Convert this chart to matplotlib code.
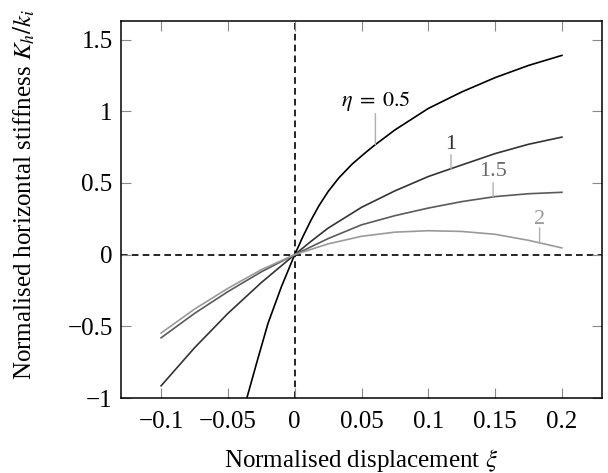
"""
Normalised horizontal stiffness against normalised displacement
for several values of eta, in the pgfplots look of the original.
"""

import numpy as np
import matplotlib
matplotlib.use("Agg")
import matplotlib.pyplot as plt
from matplotlib.ticker import FuncFormatter

# values
xi_05 = [-0.0358, -0.028, -0.02, -0.01, 0.0, 0.006, 0.012, 0.018, 0.025, 0.033,
         0.043, 0.053, 0.06, 0.075, 0.1, 0.125, 0.15, 0.175, 0.2]
kh_05 = [-1.0, -0.74, -0.48, -0.225, 0.0, 0.123, 0.237, 0.339, 0.44, 0.535,
         0.632, 0.712, 0.765, 0.87, 1.02, 1.135, 1.235, 1.32, 1.39]

xi_10 = [-0.1, -0.075, -0.05, -0.025, 0.0, 0.0125, 0.025, 0.05, 0.075, 0.1,
         0.117, 0.15, 0.175, 0.2]
kh_10 = [-0.915, -0.65, -0.41, -0.195, 0.0, 0.095, 0.185, 0.33, 0.445, 0.545,
         0.6, 0.705, 0.77, 0.82]

xi_15 = [-0.1, -0.075, -0.05, -0.025, 0.0, 0.025, 0.05, 0.075, 0.1, 0.125,
         0.15, 0.175, 0.2]
kh_15 = [-0.58, -0.41, -0.258, -0.12, 0.0, 0.112, 0.208, 0.272, 0.325, 0.37,
         0.405, 0.425, 0.435]

xi_20 = [-0.1, -0.075, -0.05, -0.025, 0.0, 0.025, 0.05, 0.075, 0.1, 0.125,
         0.15, 0.175, 0.2]
kh_20 = [-0.547, -0.38, -0.235, -0.105, 0.0, 0.075, 0.128, 0.157, 0.167, 0.162,
         0.142, 0.1, 0.047]

labels = [r"$\eta\;=\;0.5$", "1", "1.5", "2"]
label_xi = [0.0604, 0.117, 0.1485, 0.1833]   # where each pin meets its curve

x_ticks = [-0.1, -0.05, 0, 0.05, 0.1, 0.15, 0.2]
y_ticks = [-1, -0.5, 0, 0.5, 1, 1.5]

# styling
line_cols = ["black", "#333333", "#5a5a5a", "#9a9a9a"]
text_cols = ["black", "#333333", "#6a6a6a", "#9a9a9a"]
pin_len = [31, 14, 14, 15]       # pixels
text_off = [44, 24, 25, 23]      # pixels, text centre above curve

plt.rcParams["font.family"] = ["Liberation Serif", "DejaVu Serif"]
plt.rcParams["mathtext.fontset"] = "stix"
plt.rcParams["axes.unicode_minus"] = True

fig = plt.figure(figsize=(6.08, 4.73), dpi=100)
ax = fig.add_axes([121/608, 1 - 398/473, 481/608, 377/473])

# zero lines
ax.axhline(0, color="black", lw=1.2, ls=(0, (4, 2.5)), zorder=1)
ax.axvline(0, color="black", lw=1.2, ls=(0, (4, 2.5)), zorder=1)

series = [(xi_05, kh_05), (xi_10, kh_10), (xi_15, kh_15), (xi_20, kh_20)]
for (xs, ys), col in zip(series, line_cols):
    ax.plot(xs, ys, color=col, lw=1.2, zorder=3)

# pins with labels
for (xs, ys), lab, lx, col, pl, to in zip(series, labels, label_xi, text_cols, pin_len, text_off):
    yc = np.interp(lx, xs, ys)
    ax.annotate("", xy=(lx, yc), xytext=(0, pl), textcoords="offset pixels",
                arrowprops=dict(arrowstyle="-", color="#b0b0b0", lw=1.0,
                                shrinkA=0, shrinkB=0))
    ax.annotate(lab, xy=(lx, yc), xytext=(0, to), textcoords="offset pixels",
                ha="center", va="center", color=col, fontsize=16)

ax.set_xlim(-0.13, 0.23)
ax.set_ylim(-1, 1.63)
ax.set_xticks(x_ticks)
ax.set_yticks(y_ticks)

def fmt(v, pos):
    s = ("%.2f" % v).rstrip("0").rstrip(".")
    if s in ("-0", ""):
        s = "0"
    return s.replace("-", "\u2212")

ax.xaxis.set_major_formatter(FuncFormatter(fmt))
ax.yaxis.set_major_formatter(FuncFormatter(fmt))
ax.tick_params(direction="in", length=7, width=0.8, color="#888888",
               top=True, right=True, labelsize=18)
ax.tick_params(axis="x", pad=9)
ax.tick_params(axis="y", pad=6)

for sp in ax.spines.values():
    sp.set_linewidth(1.1)

ax.set_xlabel(r"Normalised displacement $\xi$", fontsize=18)
ax.set_ylabel(r"Normalised horizontal stiffness $K_h/k_i$", fontsize=18)
ax.xaxis.set_label_coords(0.5, -0.13)
ax.yaxis.set_label_coords(-0.175, 0.54)

fig.savefig("out.png", dpi=100)
